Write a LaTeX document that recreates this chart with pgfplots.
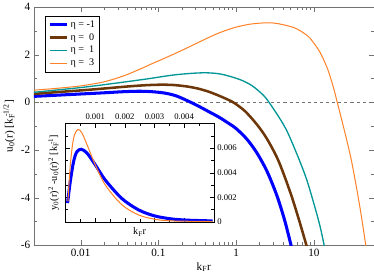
\documentclass[border=0pt]{standalone}
\usepackage{fontspec}
\setmainfont{Liberation Serif}
\usepackage{pgfplots}
\pgfplotsset{compat=1.18}
\usetikzlibrary{calc}
\definecolor{cblue}{RGB}{0,0,255}
\definecolor{cbrown}{RGB}{110,55,10}
\definecolor{cteal}{RGB}{0,150,150}
\definecolor{corange}{RGB}{255,130,40}
\begin{document}
\begin{tikzpicture}
\begin{axis}[name=main,
  scale only axis, width=335pt, height=234.7pt,
  xmode=log, xmin=0.0025, xmax=59, ymin=-6, ymax=4,
  xtick={0.01,0.1,1,10}, xticklabels={0.01,0.1,1,10},
  ytick={-6,-4,-2,0,2,4}, minor ytick={-5,-3,-1,1,3},
  /pgf/number format/assume math mode=true,
  tick align=inside,
  major tick length=5pt, minor tick length=3pt,
  axis line style={black!55}, tick style={black!55},
  tick label style={font=\fontsize{11}{13}\selectfont},
  label style={font=\fontsize{11}{13}\selectfont},
  xlabel={k\textsubscript{F}r},
  xlabel style={yshift=1pt},
  ylabel={u\textsubscript{0}(r) [k\rlap{\textsubscript{F}}\textsuperscript{ -1/2}]},
  ylabel style={yshift=-1pt},
  legend style={at={(0.034,0.963)}, anchor=north west, draw=black, font=\fontsize{10}{12}\selectfont, inner sep=2.5pt, row sep=0.5pt},
  legend cell align=left,
]
\addplot[black!55, dashed, forget plot] coordinates {(0.0025,0) (59,0)};
\addplot[cblue, line width=3pt, smooth] coordinates {
(0.0025,0.25) (0.005,0.30) (0.01,0.35) (0.02,0.40) (0.035,0.445) (0.055,0.465)
(0.08,0.45) (0.12,0.39) (0.17,0.27) (0.25,0.03) (0.333,-0.17) (0.45,-0.4)
(0.6,-0.62) (0.8,-0.88) (1.0,-1.1) (1.37,-1.54) (1.84,-2.11) (2.5,-2.9)
(3.35,-3.92) (4.2,-4.94) (5.0,-5.9) (5.1,-6.02)};
\addlegendentry{η = -1}
\addplot[cbrown, line width=2.5pt, smooth] coordinates {
(0.0025,0.35) (0.005,0.43) (0.01,0.5) (0.02,0.58) (0.04,0.665) (0.07,0.72)
(0.11,0.74) (0.16,0.725) (0.24,0.66) (0.33,0.57) (0.45,0.44) (0.62,0.26)
(0.8,0.1) (0.95,-0.03) (1.3,-0.37) (1.84,-0.92) (2.48,-1.52) (3.5,-2.45)
(5.0,-3.8) (6.5,-4.98) (8.1,-6.05)};
\addlegendentry{η =\ \ 0}
\addplot[cteal, line width=1.3pt, smooth] coordinates {
(0.0025,0.42) (0.005,0.52) (0.01,0.62) (0.02,0.74) (0.04,0.87) (0.074,0.99)
(0.15,1.14) (0.25,1.21) (0.41,1.24) (0.65,1.18) (1.11,0.96) (1.6,0.7)
(2.24,0.3) (2.65,0.0) (3.52,-0.6) (4.5,-1.2) (6.1,-2.2) (8,-3.2)
(10.1,-4.3) (12,-5.2) (13.6,-6.02)};
\addlegendentry{η =\ \ 1}
\addplot[corange, line width=1pt, smooth] coordinates {
(0.0025,0.51) (0.005,0.59) (0.01,0.69) (0.02,0.86) (0.035,1.1) (0.055,1.36)
(0.08,1.6) (0.12,1.85) (0.2,2.18) (0.33,2.52) (0.55,2.86) (0.91,3.12)
(1.5,3.28) (2.5,3.34) (3.5,3.3) (5.5,3.14) (7.5,2.9) (9.1,2.66) (12,2.1)
(15.1,1.38) (18,0.58) (20,0.0) (25,-1.25) (30,-2.35) (35,-3.5) (40,-4.6) (46.8,-6.05)};
\addlegendentry{η =\ \ 3}
\end{axis}
\begin{axis}[name=inset,
  at={($(main.south west)+(31.3pt,23pt)$)}, anchor=south west,
  scale only axis, width=146pt, height=97pt,
  xmin=0, xmax=0.005, ymin=0, ymax=0.008,
  scaled ticks=false,
  axis background/.style={fill=white},
  xtick={0.001,0.002,0.003,0.004}, xticklabels={0.001,0.002,0.003,0.004},
  minor xtick={0.0005,0.0015,0.0025,0.0035,0.0045},
  ytick={0,0.002,0.004,0.006}, yticklabels={0,0.002,0.004,0.006},
  minor ytick={0.001,0.003,0.005,0.007},
  xticklabel pos=upper, yticklabel pos=upper,
  tick align=inside,
  major tick length=4pt, minor tick length=2.5pt,
  axis line style={black}, tick style={black},
  tick label style={font=\fontsize{8.5}{10}\selectfont},
  label style={font=\fontsize{10}{12}\selectfont},
  xlabel={k\textsubscript{F}r},
  xlabel style={at={(axis description cs:0.5,0)}, anchor=north, yshift=-2pt},
  ylabel={y\textsubscript{0}(r)\textsuperscript{2} -u\textsubscript{0}(r)\textsuperscript{2} [k\rlap{\textsubscript{F}}\textsuperscript{ -1}]},
  ylabel style={at={(axis description cs:-0.02,0.5)}, anchor=south},
]
\addplot[cblue, line width=3pt, smooth] coordinates {
(0.000067,0.00153) (0.00016,0.0033) (0.00027,0.0049) (0.00038,0.0057)
(0.00053,0.0059) (0.00072,0.0056) (0.001,0.00465) (0.00134,0.0034)
(0.0019,0.0019) (0.00246,0.00098) (0.003,0.00049) (0.00358,0.00024)
(0.00414,0.00014) (0.00496,0.00008)};
\addplot[corange, line width=1pt, smooth] coordinates {
(0.00008,0.00166) (0.00016,0.00465) (0.00027,0.0068) (0.00041,0.0075)
(0.00055,0.00724) (0.00077,0.006) (0.001,0.00465) (0.00134,0.003)
(0.0019,0.00139) (0.00246,0.00057) (0.003,0.00022) (0.00358,0.00008)
(0.00496,0.00003)};
\end{axis}
\end{tikzpicture}
\end{document}
